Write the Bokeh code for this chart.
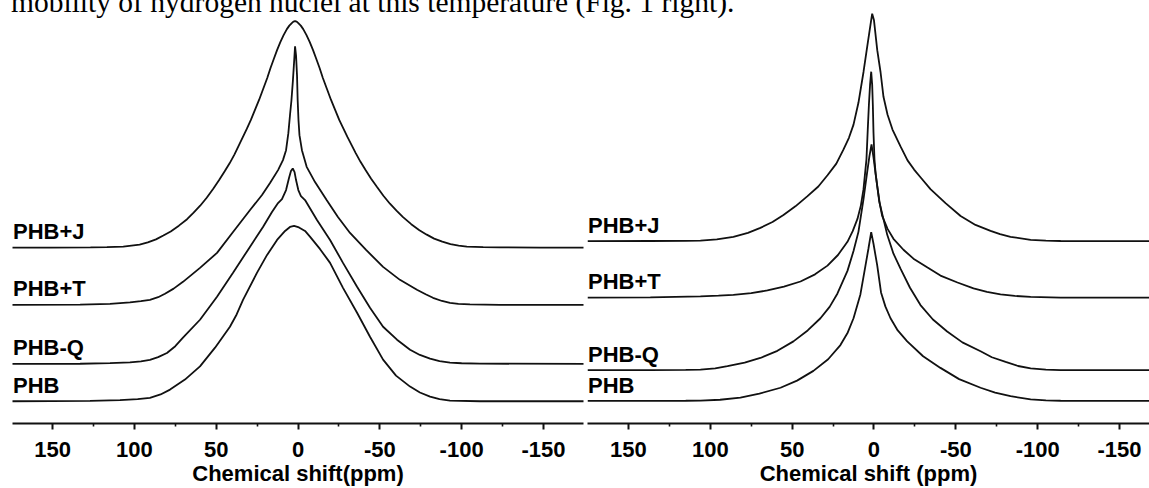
from bokeh.plotting import figure
from bokeh.layouts import row, column
from bokeh.models import Range1d, FixedTicker, Div
from bokeh.embed import file_html
from bokeh.resources import INLINE
from bokeh.core.properties import value

sentence = "mobility of hydrogen nuclei at this temperature (Fig. 1 right)."
sample_names = ["PHB+J", "PHB+T", "PHB-Q", "PHB"]
tick_values = [150, 100, 50, 0, -50, -100, -150]
tick_labels = ["150", "100", "50", "0", "-50", "-100", "-150"]
minor_tick_values = [125, 75, 25, -25, -75, -125]
left_title = "Chemical shift(ppm)"
right_title = "Chemical shift (ppm)"

# ---------------- left panel (chemical shift ppm, intensity a.u.) ----------------
L_J_ppm = [175, 151.8, 126.8, 116.8, 106.8, 101.8, 96.8, 91.8, 86.8, 82.3,
           77.8, 72.8, 67.8, 63.8, 59.8, 55.8, 51.8, 48.3, 44.8, 41.8,
           38.8, 36.3, 33.8, 31.3, 28.8, 26.3, 23.8, 21.3, 18.8, 16.8,
           14.8, 12.8, 10.8, 8.8, 6.8, 5.3, 3.8, 2.8, 1.8,
           0.8, -0.2, -1.7, -3.2, -5.2, -7.2, -9.2, -11.2, -13.2, -15.2,
           -17.7, -20.2, -22.7, -25.2, -27.7, -30.2, -32.7, -35.2, -38.2, -41.2,
           -44.7, -48.2, -52.2, -56.2, -60.2, -64.2, -69.2, -74.2, -78.7, -83.2,
           -88.2, -93.2, -98.2, -103.2, -113.2, -123.2, -148.2, -175]
L_J_int = [0, 0, 0.2, 0.5, 1.0, 2.0, 3.0, 5.3, 8.3, 12.2,
           16.2, 22, 28.5, 35, 42, 50, 59, 67.5, 76.5, 84.5,
           93.5, 102, 110.5, 119, 128, 138, 148, 159, 170, 180,
           189, 198, 206, 213, 219, 222.5, 225, 226.5, 227,
           226.5, 225, 222.5, 219, 213, 206, 198, 189, 180, 170,
           159, 148, 138, 128, 119.5, 111, 103, 95, 86, 78,
           69, 61, 52, 44, 37, 30.5, 23.5, 17.5, 13, 9,
           6, 3.5, 2, 1, 0.5, 0.2, 0, 0]

L_T_ppm = [175, 133.2, 114.9, 102.7, 96.0, 90.5, 85.5, 81.3, 76.0, 70.3, 59.9, 49.5, 39.7, 29.3, 22.0, 17.1, 12.2, 9.2,
           7.3, 5.9, 4.9, 4.0, 3.1, 2.4, 1.8, 1.2, 0.6, 0.2, -0.3, -0.9, -2.4, -5.3, -10.4,
           -17.5, -24.4, -31.8, -41.6, -52.0, -62.3, -72.7, -78.0, -82.5, -88.0, -92.9, -98.0, -105.1, -123.5, -175]
L_T_int = [0, 0.2, 1, 2.5, 3.6, 5, 7.6, 11, 16.2, 23, 37, 52, 73, 95, 110, 122, 135, 145,
           155, 172, 190, 205, 225, 243, 259, 250, 230, 205, 185, 170, 155, 138.3, 123,
           105, 88, 72, 55, 38, 25, 15, 10.5, 7, 3.8, 2, 1.0, 0.5, 0, 0]

L_Q_ppm = [175, 133.2, 114.9, 102.7, 96.0, 90.5, 85.5, 80.1, 75.0, 70.3, 59.9, 49.5, 39.7, 30.6, 21.4, 15.9, 12.2, 9.8,
           7.3, 5.5, 4.3, 3.2, 2.1, 1.2, -0.2, -1.8, -4.3, -11.6, -19.6, -27.5, -36.1, -44.0, -52.0,
           -60.5, -68.5, -74.5, -80.7, -86.5, -92.9, -100.0, -111.2, -175]
L_Q_int = [0, 0.2, 0.8, 1.5, 2.5, 4.0, 6.8, 11.0, 17.8, 26.3, 44.3, 67.3, 91.3, 114.3, 137.3, 152.3, 161.3, 165.3,
           174.3, 186.3, 193.3, 196, 192.3, 184.3, 174.3, 168.3, 164.3, 144.3, 124.3, 101.3, 77.3, 56.3, 37.3,
           24.3, 14.3, 9.0, 5.3, 2.8, 1.3, 0.7, 0.3, 0]

L_P_ppm = [175, 127.1, 108.8, 98.0, 90.5, 84.0, 78.2, 69.1, 59.9, 50.7, 41.6, 37.5, 33.6, 25.1, 18.9, 12.8, 7.9, 4.9,
           2.4, -0.6, -4.3, -7.3, -13.4, -19.6, -27.5, -36.1, -44.0, -52.0, -59.9, -68.5, -74.5, -80.7, -86.5, -92.9, -111.2, -175]
L_P_int = [0, 0.4, 1.2, 2.2, 3.4, 6.8, 11.7, 21.7, 35, 53.7, 74.7, 87.0, 101.7, 128.7, 146.7, 161.7, 170.7, 174.7,
           175.7, 174.2, 170.7, 165, 152.7, 138.7, 113.7, 88.7, 64.7, 41.7, 25.7, 14.7, 8.8, 4.7, 2.2, 0.7, 0, 0]

# ---------------- right panel ----------------
R_J_ppm = [175, 136.6, 115.0, 106.0, 96.0, 85.9, 77.0, 69.4, 62.0, 55.3, 48.0, 40.6, 34.0, 28.4, 23.0, 18.6, 15.3, 12.5, 9.5, 6.4, 4.0, 2.1, 1.1,
           0.0, -2.0, -4.0, -5.8, -8.3, -11.3, -16.2, -20.5, -24.5, -28.4, -34.5, -43.7, -52.9, -62.0, -71.2, -77.0, -83.4,
           -95.7, -105.0, -114.0, -175]
R_J_int = [0, 0.1, 0.2, 0.5, 1.8, 4.3, 8.3, 13.3, 19.2, 26.3, 35.0, 45.3, 55.0, 66.3, 78.0, 92.3, 104.0, 117.3, 139.3, 170.3, 197.3, 218.3, 229,
           222.3, 192.3, 170.3, 145.3, 127.3, 112.3, 95.3, 81.3, 72.0, 64.3, 52.3, 38.3, 25.3, 16.3, 10.3, 7.0, 4.3,
           1.3, 0.5, 0.1, 0]

R_T_ppm = [175, 136.6, 106.0, 95.0, 85.9, 75.0, 65.1, 55.0, 44.9, 36.0, 28.4, 22.0, 16.2, 13.0, 10.1, 8.0, 6.4, 4.6, 3.8, 3.1, 2.4, 1.7,
           1.1, 0.7, 0.3, -0.3, -1.0, -2.0, -3.5, -5.0, -8.3, -11.9, -18.0, -24.1, -32.7, -40.6, -51.0, -60.8, -69.0, -77.3,
           -86.0, -95.7, -114.0, -175]
R_T_int = [0, 0.3, 1.3, 2.0, 2.8, 4.6, 7.3, 11.2, 16.3, 23.5, 32.3, 43.0, 56.3, 67.0, 79.3, 93.0, 109.3, 139.3, 169.3, 194.3, 214.3, 227.6,
           214.3, 194.3, 166.3, 139.3, 125.0, 112.3, 95.0, 82.3, 69.3, 59.3, 48.3, 39.3, 30.3, 22.3, 15.3, 9.3, 5.8, 3.3,
           1.8, 0.8, 0.1, 0]

R_Q_ppm = [175, 136.6, 115.0, 106.0, 97.0, 89.5, 79.0, 69.4, 59.0, 49.2, 40.5, 32.7, 27.0, 22.3, 16.2, 12.5, 9.5, 6.4, 4.2, 2.8, 1.5,
           0.3, -0.9, -3.2, -8.1, -11.9, -16.2, -22.0, -28.4, -36.0, -44.7, -54.0, -65.1, -72.0, -80.4, -88.0, -95.7, -105.0, -114.0, -175]
R_Q_int = [0, 0.1, 0.3, 0.6, 1.8, 4, 7.5, 12.3, 19.5, 29, 40.0, 52.3, 64.0, 77.3, 100, 120, 139.3, 172.3, 199, 215.3, 227.3,
           214.3, 199, 170, 136.3, 117.3, 102.3, 83.0, 65.6, 51.0, 39, 28.0, 19, 13.0, 8.3, 4.2, 1.8, 0.6, 0.1, 0]

R_P_ppm = [175, 130.5, 115.0, 106.0, 94.0, 81.6, 70.0, 57.1, 47.0, 37.0, 28.0, 20.5, 16.0, 12.5, 8.3, 5.2, 3.4, 1.7, 0.3, -2.0, -4.3,
           -7.0, -10.1, -14.5, -20.3, -30.0, -40.6, -52.0, -65.1, -74.0, -83.4, -95.7, -105.0, -114.0, -175]
R_P_int = [0, 0.1, 0.2, 0.3, 1.2, 3.3, 7.4, 13.3, 20.5, 30.3, 42.0, 56.3, 69.0, 83.3, 107.3, 136.3, 153.3, 170, 158.3, 136.3, 109.3,
           95.0, 83.3, 71.0, 60, 45.0, 33.3, 22.0, 13.3, 8.5, 4.8, 1.6, 0.6, 0.2, 0]

# vertical stacking offsets of each trace (a.u.), order as sample_names
left_offsets = [176.3, 119.0, 59.7, 22.3]
right_offsets = [183.7, 126.7, 53.7, 22.7]
label_gap = 16

left_traces = [(L_J_ppm, L_J_int), (L_T_ppm, L_T_int), (L_Q_ppm, L_Q_int), (L_P_ppm, L_P_int)]
right_traces = [(R_J_ppm, R_J_int), (R_T_ppm, R_T_int), (R_Q_ppm, R_Q_int), (R_P_ppm, R_P_int)]

FIG_H = 488
AX_FONT = "Liberation Sans"


def make_panel(x_start, x_end, width, frame_h, bl, br, traces, offsets, title):
    p = figure(width=width, height=FIG_H, x_range=Range1d(x_start, x_end), y_range=Range1d(0, frame_h),
               output_backend="svg", toolbar_location=None, y_axis_location=None,
               min_border_left=bl, min_border_right=br, min_border_top=0,
               min_border_bottom=FIG_H - frame_h,
               background_fill_color=None, border_fill_color=None, outline_line_color=None)
    p.grid.visible = False
    for (ppm, inten), off, name in zip(traces, offsets, sample_names):
        p.line(ppm, [v + off for v in inten], line_color="#111111", line_width=1.8)
        p.text(x=[x_start - 0.3], y=[off + label_gap], text=[name],
               text_font=value("Liberation Sans"), text_font_style="bold",
               text_font_size="22px", text_color="#000000",
               text_baseline="alphabetic", text_align="left")
    ax = p.xaxis[0]
    ax.ticker = FixedTicker(ticks=tick_values, minor_ticks=minor_tick_values)
    ax.major_label_overrides = {v: s for v, s in zip(tick_values, tick_labels)}
    ax.axis_line_color = "#111111"
    ax.axis_line_width = 1.8
    ax.major_tick_in = 0
    ax.major_tick_out = 6
    ax.major_tick_line_width = 2
    ax.major_tick_line_color = "#111111"
    ax.minor_tick_in = 0
    ax.minor_tick_out = 3
    ax.minor_tick_line_width = 1.6
    ax.minor_tick_line_color = "#111111"
    ax.major_label_text_font = AX_FONT
    ax.major_label_text_font_style = "bold"
    ax.major_label_text_font_size = "22px"
    ax.major_label_text_color = "#000000"
    ax.major_label_standoff = 12
    ax.axis_label = title
    ax.axis_label_text_font = AX_FONT
    ax.axis_label_text_font_style = "bold"
    ax.axis_label_text_font_size = "22px"
    ax.axis_label_text_color = "#000000"
    ax.axis_label_standoff = 1
    return p


p1 = make_panel(174.5, -174.5, 585, 424, 12, 2, left_traces, left_offsets, left_title)
p2 = make_panel(175.0, -168.3, 564, 426, 2, 0, right_traces, right_offsets, right_title)

div = Div(text=('<div style="position:relative;top:-13px;left:11px;font-family:\'Liberation Serif\';'
                'font-size:29.5px;line-height:30px;white-space:nowrap;color:#000;">' + sentence + '</div>'),
          width=1149, height=0, margin=0, styles={"overflow": "visible"})

layout = column(div, row(p1, p2))

open("out.html", "w").write(file_html(layout, INLINE))
